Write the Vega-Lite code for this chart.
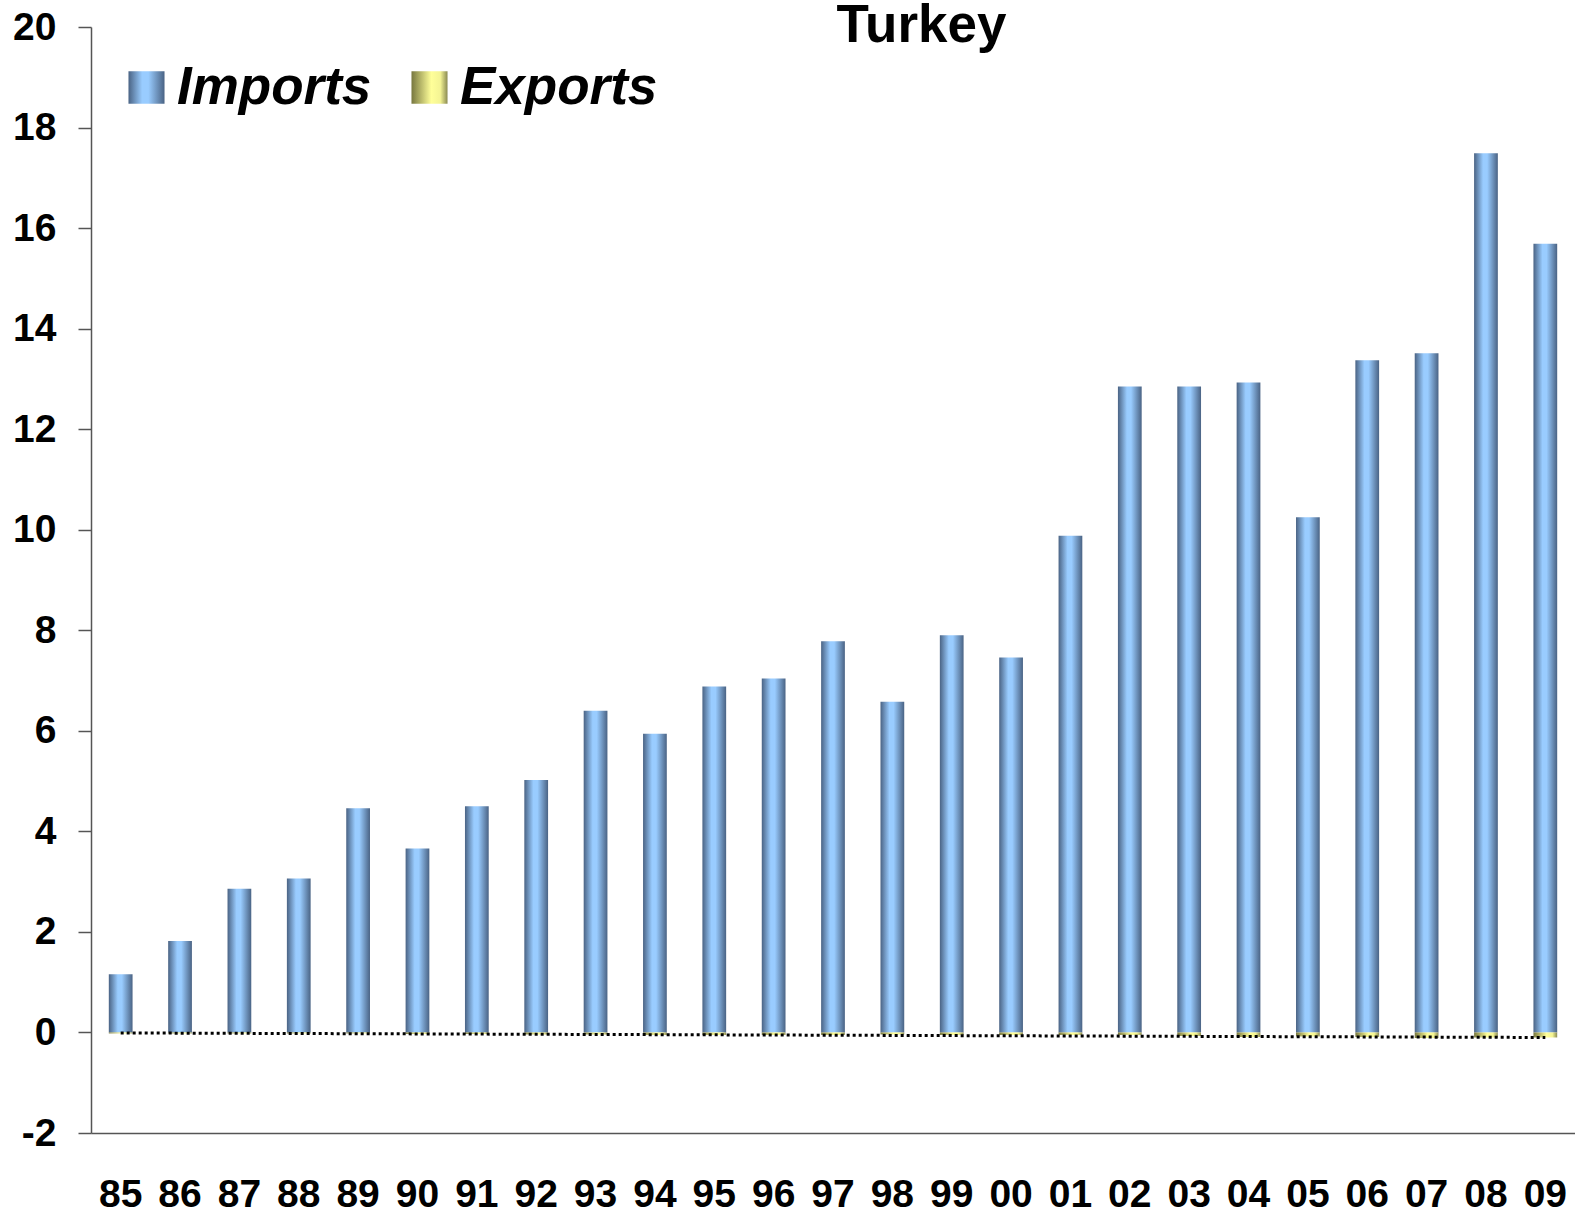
{
  "$schema": "https://vega.github.io/schema/vega-lite/v6.json",
  "width": 1484,
  "height": 1106,
  "autosize": {"type": "none"},
  "padding": {"left": 91, "top": 27, "right": 0, "bottom": 81},
  "background": "white",
  "datasets": {
    "trade": [
      {"year": "85", "series": "Imports", "value": 1.16},
      {"year": "86", "series": "Imports", "value": 1.82},
      {"year": "87", "series": "Imports", "value": 2.86},
      {"year": "88", "series": "Imports", "value": 3.06},
      {"year": "89", "series": "Imports", "value": 4.46},
      {"year": "90", "series": "Imports", "value": 3.66},
      {"year": "91", "series": "Imports", "value": 4.5},
      {"year": "92", "series": "Imports", "value": 5.02},
      {"year": "93", "series": "Imports", "value": 6.4},
      {"year": "94", "series": "Imports", "value": 5.94},
      {"year": "95", "series": "Imports", "value": 6.88},
      {"year": "96", "series": "Imports", "value": 7.04},
      {"year": "97", "series": "Imports", "value": 7.78},
      {"year": "98", "series": "Imports", "value": 6.58},
      {"year": "99", "series": "Imports", "value": 7.9},
      {"year": "00", "series": "Imports", "value": 7.46},
      {"year": "01", "series": "Imports", "value": 9.88},
      {"year": "02", "series": "Imports", "value": 12.85},
      {"year": "03", "series": "Imports", "value": 12.85},
      {"year": "04", "series": "Imports", "value": 12.93},
      {"year": "05", "series": "Imports", "value": 10.25},
      {"year": "06", "series": "Imports", "value": 13.37},
      {"year": "07", "series": "Imports", "value": 13.51},
      {"year": "08", "series": "Imports", "value": 17.49},
      {"year": "09", "series": "Imports", "value": 15.69},
      {"year": "85", "series": "Exports", "value": -0.02},
      {"year": "86", "series": "Exports", "value": -0.02},
      {"year": "87", "series": "Exports", "value": -0.02},
      {"year": "88", "series": "Exports", "value": -0.02},
      {"year": "89", "series": "Exports", "value": -0.02},
      {"year": "90", "series": "Exports", "value": -0.03},
      {"year": "91", "series": "Exports", "value": -0.03},
      {"year": "92", "series": "Exports", "value": -0.04},
      {"year": "93", "series": "Exports", "value": -0.04},
      {"year": "94", "series": "Exports", "value": -0.05},
      {"year": "95", "series": "Exports", "value": -0.05},
      {"year": "96", "series": "Exports", "value": -0.05},
      {"year": "97", "series": "Exports", "value": -0.05},
      {"year": "98", "series": "Exports", "value": -0.04},
      {"year": "99", "series": "Exports", "value": -0.05},
      {"year": "00", "series": "Exports", "value": -0.05},
      {"year": "01", "series": "Exports", "value": -0.05},
      {"year": "02", "series": "Exports", "value": -0.05},
      {"year": "03", "series": "Exports", "value": -0.07},
      {"year": "04", "series": "Exports", "value": -0.09},
      {"year": "05", "series": "Exports", "value": -0.08},
      {"year": "06", "series": "Exports", "value": -0.09},
      {"year": "07", "series": "Exports", "value": -0.11},
      {"year": "08", "series": "Exports", "value": -0.1},
      {"year": "09", "series": "Exports", "value": -0.1}
    ],
    "trend": [
      {"year": "85", "value": -0.01},
      {"year": "09", "value": -0.1}
    ]
  },
  "encoding": {
    "x": {
      "field": "year",
      "type": "nominal",
      "sort": null,
      "scale": {"paddingInner": 0.6, "paddingOuter": 0.3},
      "axis": {
        "title": null,
        "labelAngle": 0,
        "labelFont": "Liberation Sans",
        "labelFontSize": 39,
        "labelFontWeight": "bold",
        "labelColor": "black",
        "labelPadding": 42,
        "ticks": false,
        "domainColor": "#555555",
        "domainWidth": 1.5
      }
    },
    "y": {
      "field": "value",
      "type": "quantitative",
      "stack": null,
      "scale": {"domain": [-2, 20], "nice": false, "zero": false},
      "axis": {
        "title": "Turkey",
        "titleFont": "Liberation Sans",
        "titleFontSize": 53,
        "titleFontWeight": "bold",
        "titleColor": "black",
        "titleAngle": 0,
        "titleAlign": "center",
        "titleBaseline": "alphabetic",
        "titleX": 830,
        "titleY": 14,
        "values": [-2, 0, 2, 4, 6, 8, 10, 12, 14, 16, 18, 20],
        "labelExpr": "datum.value < 0 ? '-' + abs(datum.value) : datum.label",
        "grid": false,
        "labelFont": "Liberation Sans",
        "labelFontSize": 39,
        "labelFontWeight": "bold",
        "labelColor": "black",
        "labelPadding": 22,
        "tickSize": 13,
        "tickColor": "#555555",
        "tickWidth": 1.5,
        "domainColor": "#555555",
        "domainWidth": 1.5
      }
    }
  },
  "resolve": {"scale": {"shape": "independent"}, "legend": {"shape": "independent"}},
  "layer": [
    {
      "data": {"name": "trade"},
      "transform": [{"filter": "datum.series === 'Imports'"}],
      "mark": {
        "type": "point",
        "filled": true,
        "opacity": 0,
        "size": 1156,
        "fill": {"gradient": "linear", "x1": 0, "y1": 0, "x2": 1, "y2": 0, "stops": [
          {"offset": 0, "color": "#4a6384"},
          {"offset": 0.38, "color": "#99ccff"},
          {"offset": 0.55, "color": "#99ccff"},
          {"offset": 1, "color": "#4a6384"}
        ]}
      },
      "encoding": {
        "shape": {
          "field": "series",
          "type": "nominal",
          "scale": {"domain": ["Imports"], "range": ["M-1.06,-0.96H1.06V0.96H-1.06Z"]},
          "legend": {
            "title": null,
            "orient": "none",
            "legendX": 29,
            "legendY": 34,
            "padding": 0,
            "symbolSize": 1156,
            "symbolStrokeWidth": 0,
            "symbolOpacity": 1,
            "labelFont": "Liberation Sans",
            "labelFontSize": 53,
            "labelFontWeight": "bold",
            "labelFontStyle": "italic",
            "labelColor": "black",
            "labelOffset": 4,
            "labelLimit": 400
          }
        }
      }
    },
    {
      "data": {"name": "trade"},
      "transform": [{"filter": "datum.series === 'Exports'"}],
      "mark": {
        "type": "point",
        "filled": true,
        "opacity": 0,
        "size": 1156,
        "fill": {"gradient": "linear", "x1": 0, "y1": 0, "x2": 1, "y2": 0, "stops": [
          {"offset": 0, "color": "#77773f"},
          {"offset": 0.55, "color": "#ffff99"},
          {"offset": 0.8, "color": "#f4f494"},
          {"offset": 1, "color": "#8a8a52"}
        ]}
      },
      "encoding": {
        "shape": {
          "field": "series",
          "type": "nominal",
          "scale": {"domain": ["Exports"], "range": ["M-1.06,-0.96H1.06V0.96H-1.06Z"]},
          "legend": {
            "title": null,
            "orient": "none",
            "legendX": 312,
            "legendY": 34,
            "padding": 0,
            "symbolSize": 1156,
            "symbolStrokeWidth": 0,
            "symbolOpacity": 1,
            "labelFont": "Liberation Sans",
            "labelFontSize": 53,
            "labelFontWeight": "bold",
            "labelFontStyle": "italic",
            "labelColor": "black",
            "labelOffset": 4,
            "labelLimit": 400
          }
        }
      }
    },
    {
      "data": {"name": "trade"},
      "transform": [{"filter": "datum.series === 'Imports'"}],
      "mark": {
        "type": "bar",
        "fill": {"gradient": "linear", "x1": 0, "y1": 0, "x2": 1, "y2": 0, "stops": [
          {"offset": 0, "color": "#4a6384"},
          {"offset": 0.38, "color": "#99ccff"},
          {"offset": 0.55, "color": "#99ccff"},
          {"offset": 1, "color": "#4a6384"}
        ]}
      }
    },
    {
      "data": {"name": "trade"},
      "transform": [{"filter": "datum.series === 'Exports'"}],
      "mark": {
        "type": "bar",
        "fill": {"gradient": "linear", "x1": 0, "y1": 0, "x2": 1, "y2": 0, "stops": [
          {"offset": 0, "color": "#77773f"},
          {"offset": 0.55, "color": "#ffff99"},
          {"offset": 0.8, "color": "#f4f494"},
          {"offset": 1, "color": "#8a8a52"}
        ]}
      }
    },
    {
      "data": {"name": "trend"},
      "mark": {"type": "line", "color": "black", "strokeWidth": 3, "strokeDash": [3, 3]},
      "encoding": {}
    }
  ],
  "config": {
    "view": {"stroke": null},
    "font": "Liberation Sans"
  }
}
